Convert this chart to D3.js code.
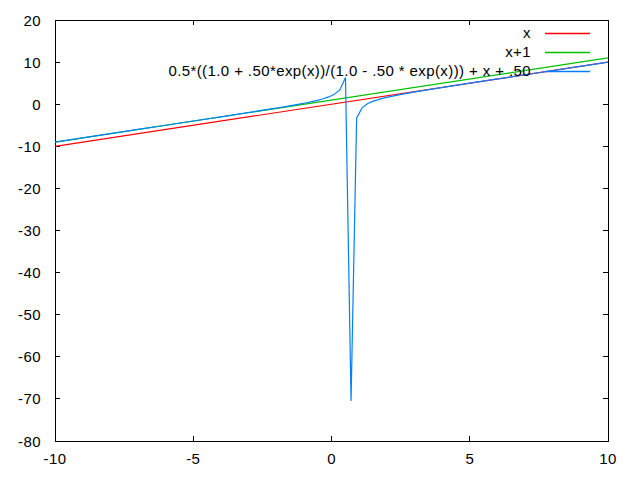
<!DOCTYPE html>
<html><head><meta charset="utf-8">
<script src="https://cdn.jsdelivr.net/npm/d3@7"></script>
<style>
html,body{margin:0;padding:0;background:#fff;}
text{font-family:"Liberation Sans",Arial,sans-serif;font-size:15px;letter-spacing:0.4px;fill:#000;}
</style></head>
<body>
<svg id="c" width="640" height="480"></svg>
<script>
const xTicks = [-10, -5, 0, 5, 10];
const yTicks = [20, 10, 0, -10, -20, -30, -40, -50, -60, -70, -80];
const seriesNames = ["x", "x+1", "0.5*((1.0 + .50*exp(x))/(1.0 - .50 * exp(x))) + x + .50"];
const lineX = [-10, 10];
const lineY = [-10, 10];
const line1X = [-10, 10];
const line1Y = [-9, 11];
const curveX = [-10, -9, -8, -7, -6, -5, -4, -3.1313, -2.5253, -2.1212, -1.9192, -1.7172, -1.5152, -1.3131, -1.1111, -0.9091, -0.7071, -0.5051, -0.3030, -0.1010, 0.1010, 0.3030, 0.5051, 0.7071, 0.9091, 1.1111, 1.3131, 1.5152, 1.7172, 1.9192, 2.1212, 2.5253, 3.1313, 4.1414, 5, 6, 7, 8, 9, 10];
const curveY = [-9.0, -8.0, -7.0, -5.9995, -4.9988, -3.9966, -2.9908, -2.109, -1.4836, -1.0574, -0.840, -0.6185, -0.392, -0.158, 0.086, 0.343, 0.620, 0.927, 1.283, 1.724, 2.338, 3.399, 6.339, -70.47, -3.240, -0.816, 0.149, 0.731, 1.157, 1.504, 1.806, 2.335, 3.036, 4.109, 4.986, 5.995, 6.998, 7.999, 9.0, 10.0];

const colors = ["#ff0000", "#00c000", "#0080ff"];
const L = 55, R = 608, T = 20, B = 441;
const svg = d3.select("#c");
const x = d3.scaleLinear().domain([-10, 10]).range([L, R]);
const y = d3.scaleLinear().domain([-80, 20]).range([B, T]);

const g = svg.append("g").attr("shape-rendering", "crispEdges");
const tl = 5;
xTicks.forEach(t => {
  g.append("line").attr("x1", x(t)).attr("x2", x(t)).attr("y1", B).attr("y2", B - tl).attr("stroke", "#000");
  g.append("line").attr("x1", x(t)).attr("x2", x(t)).attr("y1", T).attr("y2", T + tl).attr("stroke", "#000");
  svg.append("text").attr("x", x(t)).attr("y", 464).attr("text-anchor", "middle").text(t);
});
yTicks.forEach(t => {
  g.append("line").attr("x1", L).attr("x2", L + tl).attr("y1", y(t)).attr("y2", y(t)).attr("stroke", "#000");
  g.append("line").attr("x1", R).attr("x2", R - tl).attr("y1", y(t)).attr("y2", y(t)).attr("stroke", "#000");
  svg.append("text").attr("x", 41).attr("y", y(t) + 5.5).attr("text-anchor", "end").text(t);
});

svg.append("clipPath").attr("id", "pc").append("rect")
  .attr("x", L).attr("y", T).attr("width", R - L).attr("height", B - T);

const line = d3.line().x(d => x(d[0])).y(d => y(d[1]));
const data = [
  d3.zip(lineX, lineY),
  d3.zip(line1X, line1Y),
  d3.zip(curveX, curveY)
];
const pg = svg.append("g").attr("clip-path", "url(#pc)");
data.forEach((d, i) => {
  pg.append("path").datum(d).attr("d", line).attr("fill", "none")
    .attr("stroke", colors[i]).attr("stroke-width", 1.2);
});

// legend
const legY = [33.5, 52.5, 71.5];
seriesNames.forEach((n, i) => {
  svg.append("text").attr("x", 531).attr("y", legY[i] + 4).attr("text-anchor", "end").text(n);
  svg.append("line").attr("x1", 545).attr("x2", 590).attr("y1", legY[i]).attr("y2", legY[i])
    .attr("stroke", colors[i]).attr("stroke-width", 1.5);
});

g.append("rect").attr("x", L).attr("y", T).attr("width", R - L).attr("height", B - T)
  .attr("fill", "none").attr("stroke", "#000");
</script>
</body></html>
